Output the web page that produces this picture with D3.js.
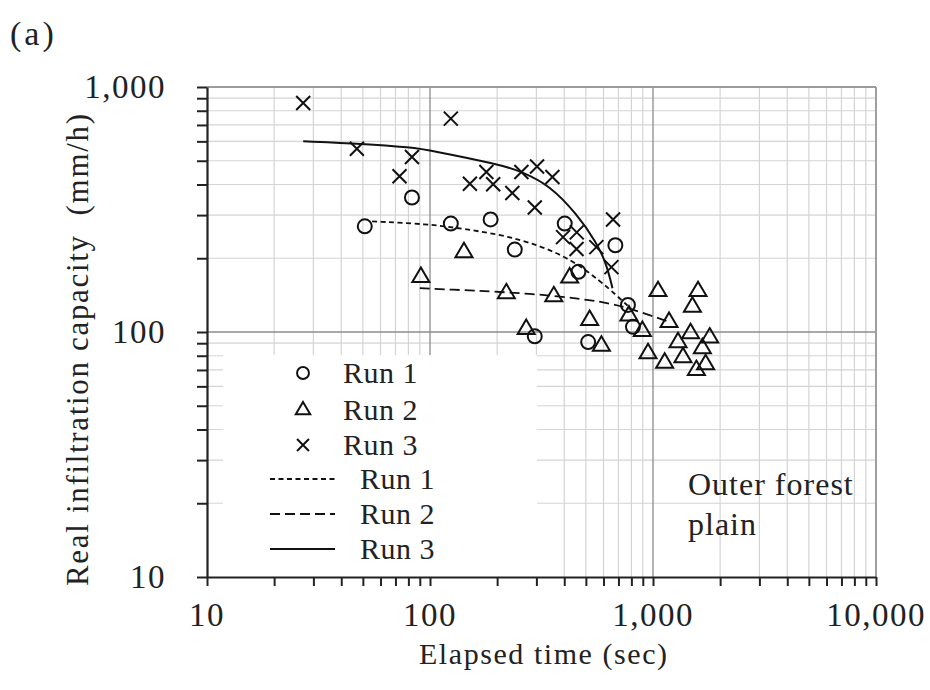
<!DOCTYPE html>
<html>
<head>
<meta charset="utf-8">
<script src="https://cdn.jsdelivr.net/npm/d3@7"></script>
<style>
body { margin: 0; background: #fff; }
</style>
</head>
<body>
<div id="chart"></div>
<script>
// values: [elapsed time (sec), rate (mm/h)]
const run1Obs = [[51, 270], [83, 354], [124, 277], [187, 288], [240, 217], [295, 96],
    [402, 277], [463, 176], [512, 91], [678, 226], [772, 129], [813, 105]];
const run2Obs = [[91, 168], [142, 212], [220, 144], [270, 103], [359, 140], [423, 167],
    [520, 112], [587, 88], [780, 117], [896, 101], [1053, 147], [1592, 147], [1502, 127],
    [1180, 110], [1474, 99], [1796, 95], [1295, 91], [950, 82], [1128, 75], [1363, 79],
    [1565, 70], [1722, 74], [1665, 86]];
const run3Obs = [[27, 860], [47, 560], [73, 432], [83, 518], [124, 743], [151, 403],
    [179, 450], [192, 401], [234, 369], [257, 450], [295, 322], [302, 474], [354, 429],
    [395, 244], [455, 255], [454, 218], [557, 222], [651, 184], [662, 288]];

// fitted curves
const run1Fit = [[55, 283], [100, 275], [124, 268], [205, 251], [310, 226], [437, 196],
    [577, 162], [687, 141], [770, 128]];
const run2Fit = [[90, 151], [123, 149], [205, 146], [356, 141], [597, 133], [787, 125], [1180, 110]];
const run3Fit = [[27, 600], [50, 587], [83, 566], [100, 552], [205, 483], [257, 452],
    [344, 397], [454, 304], [557, 233], [618, 190], [658, 151]];

const xTicks = [10, 100, 1000, 10000];
const yTicks = [10, 100, 1000];
const markerLabels = ["Run 1", "Run 2", "Run 3"];
const lineLabels = ["Run 1", "Run 2", "Run 3"];

const width = 930, height = 690;
const serif = "'Liberation Serif', 'DejaVu Serif', serif";
const svg = d3.select("#chart").append("svg")
    .attr("width", width).attr("height", height)
    .attr("font-family", serif);

const x = d3.scaleLog().domain([10, 10000]).range([207, 876]);
const y = d3.scaleLog().domain([10, 1000]).range([577, 87]);

// minor values 2..9 in every decade
const minorOf = ticks => ticks.slice(0, -1).flatMap(d => d3.range(2, 10).map(k => d * k));
const xMinor = minorOf(xTicks);
const yMinor = minorOf(yTicks);

const grid = svg.append("g");
grid.selectAll(".vx").data(xMinor).enter().append("line")
    .attr("x1", d => x(d)).attr("x2", d => x(d))
    .attr("y1", y(10)).attr("y2", y(1000))
    .attr("stroke", "#d4d4d4").attr("stroke-width", 1.2);
grid.selectAll(".hy").data(yMinor).enter().append("line")
    .attr("x1", x(10)).attr("x2", x(10000))
    .attr("y1", d => y(d)).attr("y2", d => y(d))
    .attr("stroke", "#d4d4d4").attr("stroke-width", 1.2);
grid.selectAll(".vmaj").data(xTicks.slice(1)).enter().append("line")
    .attr("x1", d => x(d)).attr("x2", d => x(d))
    .attr("y1", y(10)).attr("y2", y(1000))
    .attr("stroke", "#8c8c8c").attr("stroke-width", 1.3);
grid.selectAll(".hmaj").data(yTicks.slice(1)).enter().append("line")
    .attr("x1", x(10)).attr("x2", x(10000))
    .attr("y1", d => y(d)).attr("y2", d => y(d))
    .attr("stroke", "#8c8c8c").attr("stroke-width", 1.3);

// legend box hides the grid behind it
svg.append("rect")
    .attr("x", 223).attr("y", 355)
    .attr("width", 314).attr("height", y(10) - 355)
    .attr("fill", "#fff");

// fitted lines
const line = d3.line().x(d => x(d[0])).y(d => y(d[1])).curve(d3.curveBasis);
const dashes = ["5,3.5", "10,5", null];
[run1Fit, run2Fit, run3Fit].forEach((pts, i) => {
    svg.append("path")
        .attr("d", line(pts))
        .attr("fill", "none")
        .attr("stroke", "#111")
        .attr("stroke-width", i === 2 ? 2 : 1.8)
        .attr("stroke-dasharray", dashes[i]);
});

// marker shapes
function drawMarker(g, kind, cx, cy, s) {
    if (kind === 0) {
        g.append("circle").attr("cx", cx).attr("cy", cy).attr("r", 7 * s)
            .attr("fill", "none").attr("stroke", "#111").attr("stroke-width", 2);
    } else if (kind === 1) {
        const h = 8.5 * s;
        g.append("path")
            .attr("d", `M${cx},${cy - h * 1.1}L${cx + h},${cy + h * 0.6}L${cx - h},${cy + h * 0.6}Z`)
            .attr("fill", "none").attr("stroke", "#111").attr("stroke-width", 2);
    } else {
        const r = 7 * s;
        g.append("path")
            .attr("d", `M${cx - r},${cy - r}L${cx + r},${cy + r}M${cx - r},${cy + r}L${cx + r},${cy - r}`)
            .attr("fill", "none").attr("stroke", "#111").attr("stroke-width", 2);
    }
}

const marks = svg.append("g");
[run1Obs, run2Obs, run3Obs].forEach((pts, i) => {
    pts.forEach(d => drawMarker(marks, i, x(d[0]), y(d[1]), 1));
});

// frame top / right
svg.append("line").attr("x1", x(10)).attr("x2", x(10000)).attr("y1", y(1000)).attr("y2", y(1000))
    .attr("stroke", "#999").attr("stroke-width", 1.5);
svg.append("line").attr("x1", x(10000)).attr("x2", x(10000)).attr("y1", y(1000)).attr("y2", y(10))
    .attr("stroke", "#999").attr("stroke-width", 1.5);

// axes (ticks only, labels drawn below)
const xAxis = svg.append("g").attr("transform", `translate(0,${y(10)})`)
    .call(d3.axisBottom(x).tickValues(xTicks.concat(xMinor)).tickSize(9).tickSizeOuter(0).tickFormat(""));
const yAxis = svg.append("g").attr("transform", `translate(${x(10)},0)`)
    .call(d3.axisLeft(y).tickValues(yTicks.concat(yMinor)).tickSize(10).tickSizeOuter(0).tickFormat(""));
[xAxis, yAxis].forEach(a => {
    a.select(".domain").attr("stroke", "#222").attr("stroke-width", 2.2);
    a.selectAll(".tick line").attr("stroke", "#222").attr("stroke-width", 2);
});

const txt = (sel, size, spacing) => sel
    .attr("font-family", serif)
    .attr("font-size", size)
    .attr("letter-spacing", spacing || 0)
    .attr("fill", "#222");

const fmt = d3.format(",");
txt(svg.selectAll(".xl").data(xTicks).enter().append("text")
    .attr("x", d => x(d)).attr("y", 626)
    .attr("text-anchor", "middle")
    .text(d => fmt(d)), 33, 1.5);
txt(svg.selectAll(".yl").data(yTicks).enter().append("text")
    .attr("x", 166).attr("y", d => y(d) + 11)
    .attr("text-anchor", "end")
    .text(d => fmt(d)), 33, 1.5);

txt(svg.append("text")
    .attr("x", 419).attr("y", 664)
    .attr("textLength", 248)
    .text("Elapsed time (sec)"), 30);

txt(svg.append("text")
    .attr("transform", "translate(88,586) rotate(-90)")
    .attr("textLength", 472)
    .text("Real infiltration capacity\u00a0 (mm/h)"), 31);

txt(svg.append("text").attr("x", 10).attr("y", 45).text("(a)"), 34, 3);

txt(svg.append("text").attr("x", 688).attr("y", 495).text("Outer forest"), 32, 1);
txt(svg.append("text").attr("x", 688).attr("y", 535).text("plain"), 32, 1);

// legend
const legend = svg.append("g");
const markerRowY = [373, 410, 445];
markerLabels.forEach((lab, i) => {
    drawMarker(legend, i, 303, markerRowY[i], 0.85);
    txt(legend.append("text").attr("x", 343).attr("y", markerRowY[i] + 10).text(lab), 30, 0.5);
});
const lineRowY = [479, 514, 549];
lineLabels.forEach((lab, i) => {
    legend.append("line")
        .attr("x1", 270).attr("x2", 335).attr("y1", lineRowY[i]).attr("y2", lineRowY[i])
        .attr("stroke", "#111").attr("stroke-width", 1.8)
        .attr("stroke-dasharray", dashes[i]);
    txt(legend.append("text").attr("x", 360).attr("y", lineRowY[i] + 10).text(lab), 30, 0.5);
});
</script>
</body>
</html>
